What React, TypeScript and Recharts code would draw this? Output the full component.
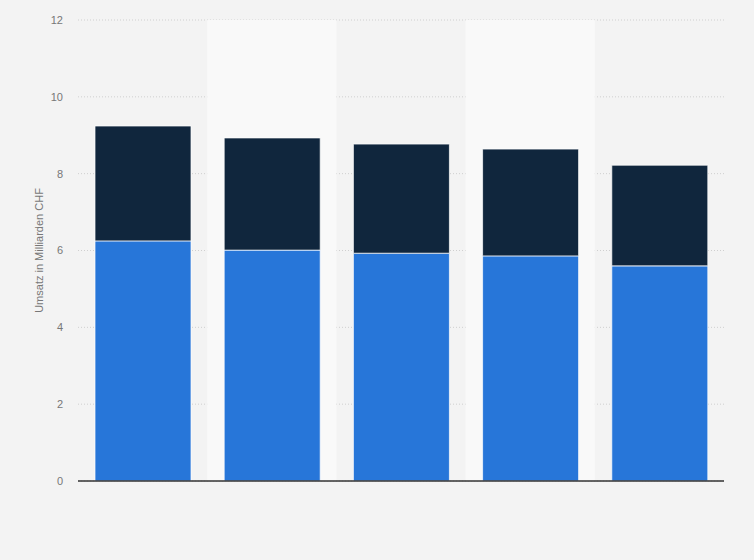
import React from "react";
import { BarChart, Bar, XAxis, YAxis, CartesianGrid, ReferenceArea } from "recharts";

const categories = ["2015", "2016", "2017", "2018", "2019"];
const seriesA = [6.25, 6.01, 5.93, 5.86, 5.6];
const seriesB = [2.99, 2.92, 2.84, 2.78, 2.62];
const yTicks = [0, 2, 4, 6, 8, 10, 12];
const bandCategories = ["2016", "2018"];

const data = categories.map((c, i) => ({ name: c, a: seriesA[i], b: seriesB[i] }));

export default function App() {
  return (
    <div
      style={{
        position: "absolute",
        left: 0,
        top: 0,
        width: 754,
        height: 560,
        background: "#f3f3f3",
        fontFamily: "'Liberation Sans', Arial, sans-serif",
      }}
    >
      <BarChart
        width={754}
        height={560}
        data={data}
        margin={{ top: 20, right: 30, left: 0, bottom: 49 }}
        barSize={96}
      >
        {bandCategories.map((c) => (
          <ReferenceArea
            key={c}
            x1={c}
            x2={c}
            y1={0}
            y2={12}
            fill="#f9f9f9"
            fillOpacity={1}
            stroke="none"
            ifOverflow="visible"
          />
        ))}
        <CartesianGrid vertical={false} stroke="#cfcfcf" strokeDasharray="1 2" />
        <XAxis
          dataKey="name"
          height={30}
          tick={false}
          tickLine={false}
          stroke="#333333"
          axisLine={{ stroke: "#333333", strokeWidth: 1.5 }}
        />
        <YAxis
          width={78}
          domain={[0, 12]}
          ticks={yTicks}
          axisLine={false}
          tickLine={false}
          tickMargin={9}
          tick={{ fontSize: 11, fill: "#777777" }}
          label={{
            value: "Umsatz in Milliarden CHF",
            angle: -90,
            position: "center",
            style: { fontSize: 11, fill: "#777777", textAnchor: "middle" },
          }}
        />
        <Bar
          dataKey="a"
          stackId="s"
          fill="#2776d9"
          stroke="#ffffff"
          strokeOpacity={0.7}
          strokeWidth={1}
          isAnimationActive={false}
        />
        <Bar
          dataKey="b"
          stackId="s"
          fill="#10263d"
          stroke="#ffffff"
          strokeOpacity={0.7}
          strokeWidth={1}
          isAnimationActive={false}
        />
      </BarChart>
    </div>
  );
}
